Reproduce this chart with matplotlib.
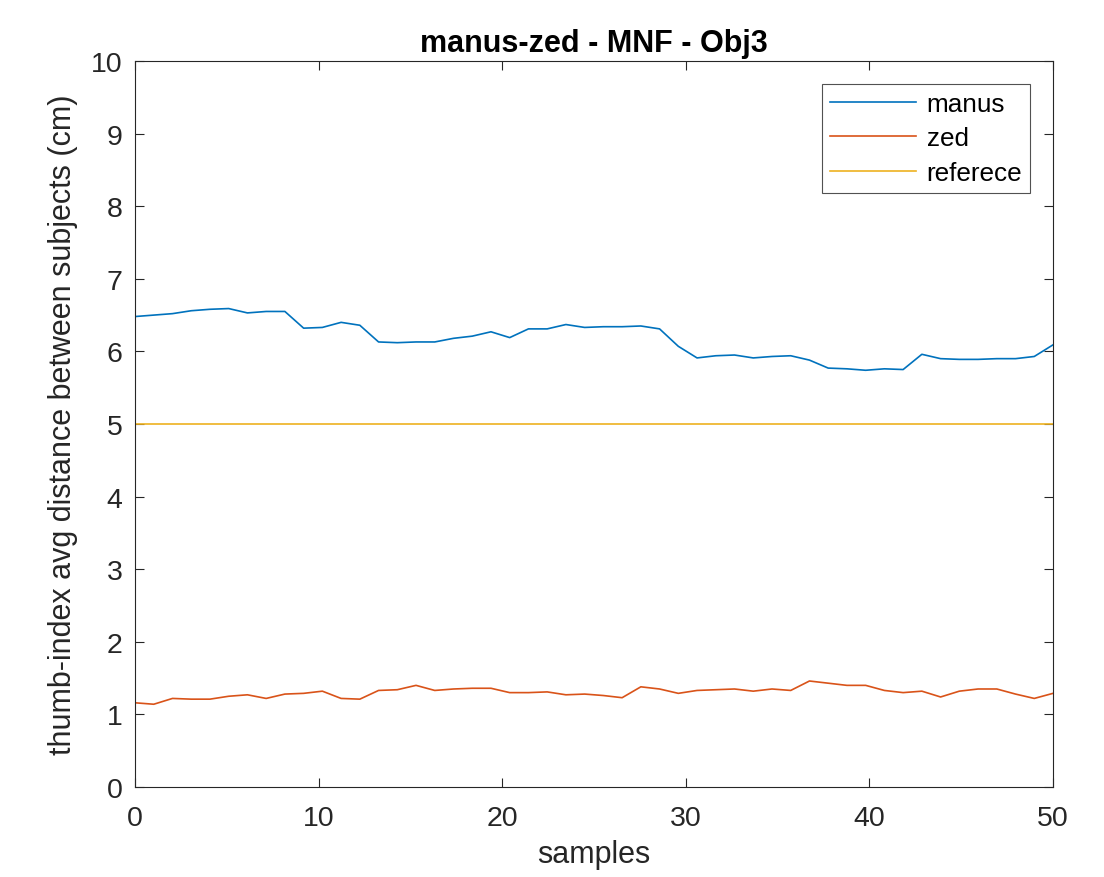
import matplotlib
matplotlib.use("Agg")
import matplotlib.pyplot as plt
import numpy as np

plt.rcParams["font.family"] = ["Liberation Sans", "DejaVu Sans"]

# per-sample averages (50 samples over 0..50)
manus = [6.48, 6.50, 6.52, 6.56, 6.58, 6.59, 6.53, 6.55, 6.55, 6.32,
         6.33, 6.40, 6.36, 6.13, 6.12, 6.13, 6.13, 6.18, 6.21, 6.27,
         6.19, 6.31, 6.31, 6.37, 6.33, 6.34, 6.34, 6.35, 6.31, 6.07,
         5.91, 5.94, 5.95, 5.91, 5.93, 5.94, 5.88, 5.77, 5.76, 5.74,
         5.76, 5.75, 5.96, 5.90, 5.89, 5.89, 5.90, 5.90, 5.93, 6.09]
zed = [1.16, 1.14, 1.22, 1.21, 1.21, 1.25, 1.27, 1.22, 1.28, 1.29,
       1.32, 1.22, 1.21, 1.33, 1.34, 1.40, 1.33, 1.35, 1.36, 1.36,
       1.30, 1.30, 1.31, 1.27, 1.28, 1.26, 1.23, 1.38, 1.35, 1.29,
       1.33, 1.34, 1.35, 1.32, 1.35, 1.33, 1.46, 1.43, 1.40, 1.40,
       1.33, 1.30, 1.32, 1.24, 1.32, 1.35, 1.35, 1.28, 1.22, 1.29]
reference = [5.0] * 50
samples = np.linspace(0, 50, len(manus))

C_MANUS = "#0072BD"
C_ZED = "#D95319"
C_REF = "#EDB120"
AX = "#262626"

fig = plt.figure(figsize=(11.04, 8.78), dpi=100)
ax = fig.add_axes([0.1223, 0.1025, 0.8315, 0.8269])

ax.plot(samples, manus, color=C_MANUS, lw=1.2, label="manus")
ax.plot(samples, zed, color=C_ZED, lw=1.2, label="zed")
ax.plot(samples, reference, color=C_REF, lw=1.2, label="referece")

ax.set_xlim(0, 50)
ax.set_ylim(0, 10)
ax.set_xticks(range(0, 51, 10))
ax.set_yticks(range(0, 11))
ax.tick_params(direction="in", length=6.5, width=0.8, labelsize=20.5,
               colors=AX, top=True, right=True)
ax.tick_params(axis="y", pad=9)
ax.tick_params(axis="x", pad=13)
for s in ax.spines.values():
    s.set_color(AX)
    s.set_linewidth(0.8)

ax.set_title("manus-zed - MNF - Obj3", fontsize=22, fontweight="bold", pad=7)
ax.set_xlabel("samples", fontsize=22, color=AX, labelpad=6)
ax.set_ylabel("thumb-index avg distance between subjects (cm)", fontsize=22,
              color=AX, labelpad=9)

leg = ax.legend(loc="upper right", fontsize=18.8, handlelength=3.3, frameon=True,
                fancybox=False, borderaxespad=0.88, labelspacing=0.4,
                borderpad=0.3, handletextpad=0.4)
leg.get_frame().set_edgecolor(AX)
leg.get_frame().set_linewidth(0.8)

fig.savefig("out.png", dpi=100, facecolor="white")
